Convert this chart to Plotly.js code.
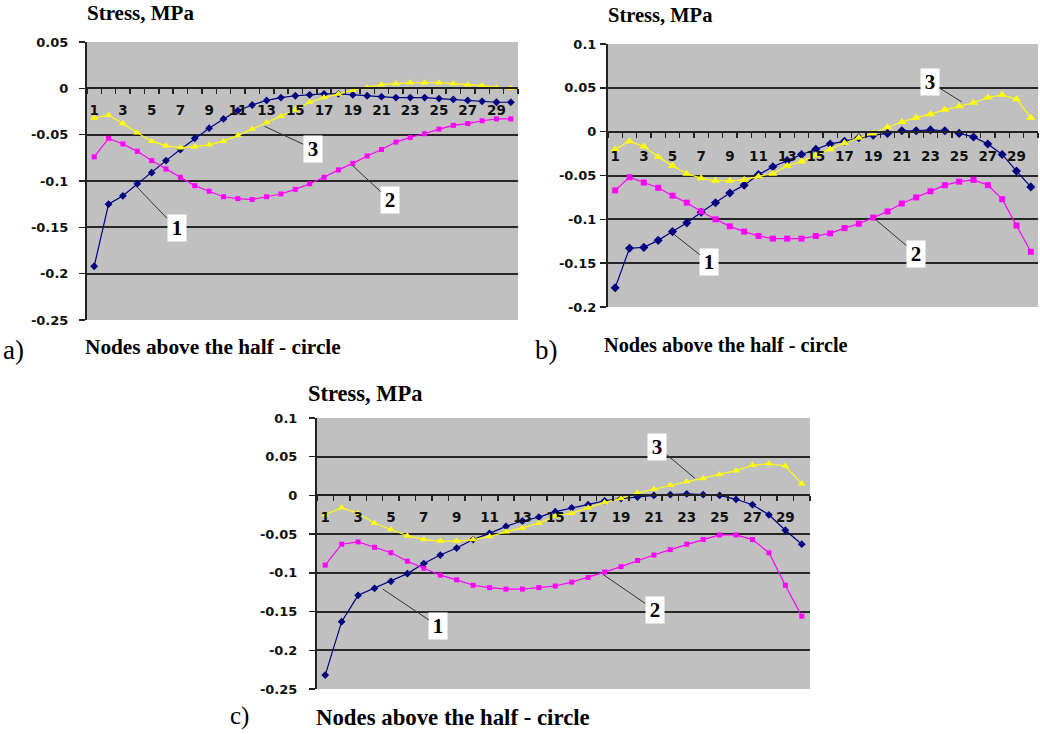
<!DOCTYPE html>
<html>
<head>
<meta charset="utf-8">
<script src="https://cdn.plot.ly/plotly-3.0.1.min.js"></script>
<style>html,body{margin:0;padding:0;background:#fff;}#chart{width:1040px;height:734px;}</style>
</head>
<body>
<div id="chart"></div>
<script>
// ---------- data ----------
const nodes = [1,2,3,4,5,6,7,8,9,10,11,12,13,14,15,16,17,18,19,20,21,22,23,24,25,26,27,28,29,30];
const xTickVals = [1,3,5,7,9,11,13,15,17,19,21,23,25,27,29];
const xTickText = ["1","3","5","7","9","11","13","15","17","19","21","23","25","27","29"];

// panel a
const aCurve1 = [-0.192,-0.125,-0.116,-0.103,-0.091,-0.078,-0.066,-0.054,-0.043,-0.033,-0.024,-0.018,-0.013,-0.010,-0.008,-0.007,-0.006,-0.006,-0.007,-0.008,-0.009,-0.010,-0.010,-0.010,-0.011,-0.012,-0.013,-0.014,-0.015,-0.015];
const aCurve2 = [-0.074,-0.054,-0.060,-0.068,-0.078,-0.087,-0.096,-0.105,-0.111,-0.117,-0.119,-0.120,-0.117,-0.114,-0.109,-0.103,-0.096,-0.088,-0.081,-0.073,-0.066,-0.058,-0.053,-0.049,-0.044,-0.040,-0.038,-0.035,-0.033,-0.033];
const aCurve3 = [-0.032,-0.029,-0.038,-0.048,-0.057,-0.062,-0.064,-0.063,-0.061,-0.057,-0.051,-0.044,-0.037,-0.030,-0.023,-0.015,-0.010,-0.006,-0.002,0.001,0.004,0.005,0.006,0.006,0.006,0.005,0.004,0.003,0.001,0.000];
// panel b
const bCurve1 = [-0.178,-0.133,-0.132,-0.124,-0.114,-0.104,-0.092,-0.081,-0.070,-0.061,-0.049,-0.040,-0.033,-0.026,-0.020,-0.014,-0.011,-0.007,-0.004,-0.002,0.001,0.001,0.002,0.001,-0.002,-0.006,-0.014,-0.026,-0.045,-0.063];
const bCurve2 = [-0.067,-0.052,-0.058,-0.064,-0.073,-0.081,-0.091,-0.100,-0.108,-0.114,-0.119,-0.122,-0.122,-0.122,-0.119,-0.116,-0.110,-0.105,-0.098,-0.091,-0.082,-0.075,-0.068,-0.061,-0.057,-0.055,-0.061,-0.077,-0.107,-0.137];
const bCurve3 = [-0.020,-0.011,-0.017,-0.029,-0.039,-0.048,-0.053,-0.056,-0.056,-0.055,-0.051,-0.048,-0.039,-0.034,-0.027,-0.020,-0.013,-0.007,-0.002,0.005,0.011,0.016,0.020,0.025,0.029,0.033,0.039,0.042,0.037,0.016];
// panel c
const cCurve1 = [-0.232,-0.163,-0.129,-0.120,-0.111,-0.101,-0.088,-0.077,-0.068,-0.057,-0.049,-0.040,-0.033,-0.028,-0.021,-0.016,-0.012,-0.007,-0.004,-0.002,0.000,0.001,0.002,0.001,0.000,-0.005,-0.012,-0.025,-0.045,-0.063];
const cCurve2 = [-0.090,-0.063,-0.060,-0.067,-0.074,-0.085,-0.094,-0.103,-0.109,-0.116,-0.119,-0.121,-0.121,-0.119,-0.117,-0.112,-0.106,-0.099,-0.092,-0.084,-0.077,-0.070,-0.063,-0.057,-0.051,-0.051,-0.057,-0.074,-0.116,-0.156];
const cCurve3 = [-0.025,-0.016,-0.023,-0.036,-0.044,-0.052,-0.057,-0.059,-0.059,-0.057,-0.053,-0.047,-0.042,-0.036,-0.027,-0.023,-0.016,-0.009,-0.004,0.003,0.008,0.013,0.018,0.022,0.027,0.032,0.039,0.041,0.038,0.015];

const aYTickVals = [0.05,0,-0.05,-0.1,-0.15,-0.2,-0.25];
const aYTickText = ["0.05","0","-0.05","-0.1","-0.15","-0.2","-0.25"];
const bYTickVals = [0.1,0.05,0,-0.05,-0.1,-0.15,-0.2];
const bYTickText = ["0.1","0.05","0","-0.05","-0.1","-0.15","-0.2"];
const cYTickVals = [0.1,0.05,0,-0.05,-0.1,-0.15,-0.2,-0.25];
const cYTickText = ["0.1","0.05","0","-0.05","-0.1","-0.15","-0.2","-0.25"];

const curveLabels = ["1","2","3"];
// leader label positions: [tipX, tipY, boxX, boxY]
const aLabelPos = [[3.95,-0.106,6.73,-0.151],[18.96,-0.083,21.6,-0.121],[12.86,-0.041,16.2,-0.065]];
const bLabelPos = [[4.94,-0.115,7.57,-0.149],[19.13,-0.0997,21.97,-0.139],[25.18,0.034,22.97,0.0564]];
const cLabelPos = [[4.5,-0.121,7.89,-0.169],[17.9,-0.102,21.06,-0.148],[23.5,0.022,21.2,0.063]];

// ---------- styling ----------
const NAVY = '#000080', MAG = '#ff00ff', YEL = '#ffff00';
const serif = '"Liberation Serif", "Times New Roman", serif';
const sans = '"DejaVu Sans", Arial, sans-serif';

function mkTraces(xa, ya, s1, s2, s3, msz) {
  return [
    {x: nodes, y: s1, xaxis: xa, yaxis: ya, type: 'scatter', mode: 'lines+markers',
     line: {color: NAVY, width: 1.2}, marker: {symbol: 'diamond', size: msz, color: NAVY}},
    {x: nodes, y: s2, xaxis: xa, yaxis: ya, type: 'scatter', mode: 'lines+markers',
     line: {color: MAG, width: 1.2}, marker: {symbol: 'square', size: msz - 1, color: MAG}},
    {x: nodes, y: s3, xaxis: xa, yaxis: ya, type: 'scatter', mode: 'lines+markers',
     line: {color: YEL, width: 1.2}, marker: {symbol: 'triangle-up', size: msz + 1, color: YEL}}
  ];
}

const data = [].concat(
  mkTraces('x', 'y', aCurve1, aCurve2, aCurve3, 6),
  mkTraces('x2', 'y2', bCurve1, bCurve2, bCurve3, 7),
  mkTraces('x3', 'y3', cCurve1, cCurve2, cCurve3, 6)
);

const W = 1040, H = 734;
function dx(l, r) { return [l / W, r / W]; }
function dy(t, b) { return [1 - b / H, 1 - t / H]; }

function xAxis(dom, ydom, yr, standoff) {
  const pos = ydom[0] + (0 - yr[0]) / (yr[1] - yr[0]) * (ydom[1] - ydom[0]);
  return {
    domain: dom, range: [0.5, 30.5], anchor: 'free', position: pos,
    showgrid: false, zeroline: false, showline: true, linecolor: '#222', linewidth: 2,
    tickmode: 'array', tickvals: xTickVals, ticktext: xTickText, ticks: '',
    ticklabelstandoff: standoff,
    tickfont: {family: sans, size: 13.5, color: '#111', weight: 'bold'},
    minor: {tickmode: 'linear', tick0: 0.5, dtick: 1, ticks: 'outside', ticklen: 5, tickwidth: 1.5, tickcolor: '#222', showgrid: false},
    fixedrange: true
  };
}
function yAxis(anchor, dom, yr, vals, text, standoff) {
  return {
    domain: dom, range: yr, anchor: anchor,
    showgrid: true, gridcolor: '#262626', gridwidth: 2, zeroline: false,
    showline: true, linecolor: '#222', linewidth: 2,
    tickmode: 'array', tickvals: vals, ticktext: text,
    ticks: 'outside', ticklen: 6, tickwidth: 1.5, tickcolor: '#222',
    ticklabelstandoff: standoff,
    tickfont: {family: sans, size: 13, color: '#111', weight: 'bold'},
    fixedrange: true
  };
}

const aX = dx(87, 518), aY = dy(42, 320), aR = [-0.25, 0.05];
const bX = dx(608, 1038), bY = dy(44, 307), bR = [-0.2, 0.1];
const cX = dx(317, 810), cY = dy(418, 689), cR = [-0.25, 0.1];

function labelAnns(pos, xr, yr) {
  return pos.map((p, i) => ({
    xref: xr, yref: yr, axref: xr, ayref: yr,
    x: p[0], y: p[1], ax: p[2], ay: p[3],
    text: curveLabels[i], showarrow: true, arrowhead: 0, arrowwidth: 1, arrowcolor: '#333',
    bgcolor: '#ffffff', width: 18, height: 26, borderpad: 0,
    font: {family: serif, size: 21, color: '#000', weight: 'bold'}
  }));
}

function txt(text, x, y, size, bold, xanchor) {
  return {xref: 'paper', yref: 'paper', x: x / W, y: 1 - y / H, xanchor: xanchor || 'left', yanchor: 'middle',
    text: text, showarrow: false,
    font: {family: serif, size: size, color: '#000', weight: bold ? 'bold' : 'normal'}};
}

const annotations = [].concat(
  labelAnns(aLabelPos, 'x', 'y'),
  labelAnns(bLabelPos, 'x2', 'y2'),
  labelAnns(cLabelPos, 'x3', 'y3'),
  [
    txt('Stress, MPa', 85, 13, 21, true),
    txt('Nodes above the half - circle', 83, 347, 21.3, true),
    txt('a)', 1, 350, 27, false),
    txt('Stress, MPa', 606, 15, 20.5, true),
    txt('Nodes above the half - circle', 602, 345, 20.3, true),
    txt('b)', 533, 350, 27, false),
    txt('Stress, MPa', 306, 393, 22.5, true),
    txt('Nodes above the half - circle', 314, 717, 22.8, true),
    txt('c)', 228, 716, 25, false)
  ]
);

const layout = {
  width: W, height: H, margin: {l: 0, r: 0, t: 0, b: 0},
  paper_bgcolor: '#ffffff', plot_bgcolor: '#c0c0c0', showlegend: false,
  xaxis: xAxis(aX, aY, aR, 9), yaxis: yAxis('x', aY, aR, aYTickVals, aYTickText, 8),
  xaxis2: xAxis(bX, bY, bR, 12), yaxis2: yAxis('x2', bY, bR, bYTickVals, bYTickText, 1),
  xaxis3: xAxis(cX, cY, cR, 9), yaxis3: yAxis('x3', cY, cR, cYTickVals, cYTickText, 9),
  annotations: annotations
};

Plotly.newPlot('chart', data, layout, {displayModeBar: false, staticPlot: true});
</script>
</body>
</html>
